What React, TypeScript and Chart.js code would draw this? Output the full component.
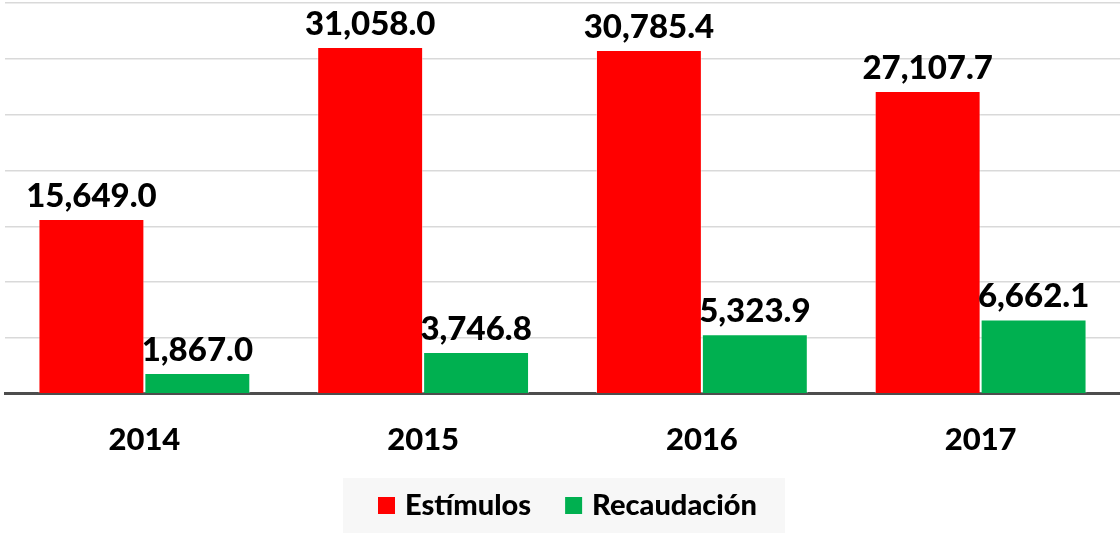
import React, { useEffect, useRef } from "react";
import { Chart, registerables } from "chart.js";

Chart.register(...registerables);

const categories = ["2014", "2015", "2016", "2017"];
const estimulos = [15649.0, 31058.0, 30785.4, 27107.7];
const recaudacion = [1867.0, 3746.8, 5323.9, 6662.1];
const seriesNames = ["Estímulos", "Recaudación"];
const seriesColors = ["#ff0000", "#00b050"];
const FONT = "Lato, 'Open Sans', sans-serif";
const WEIGHT = "900";

const fmt = (v: number) =>
  v.toLocaleString("en-US", { minimumFractionDigits: 1, maximumFractionDigits: 1 });

const dataLabels = {
  id: "dataLabels",
  afterDatasetsDraw(chart: any) {
    const ctx = chart.ctx;
    ctx.save();
    ctx.fillStyle = "#000000";
    ctx.font = `${WEIGHT} 33px ${FONT}`;
    ctx.textAlign = "center";
    ctx.textBaseline = "alphabetic";
    chart.data.datasets.forEach((ds: any, di: number) => {
      const meta = chart.getDatasetMeta(di);
      meta.data.forEach((bar: any, i: number) => {
        ctx.fillText(fmt(ds.data[i]), bar.x, bar.y - 12);
      });
    });
    ctx.restore();
  },
};

const customLegend = {
  id: "customLegend",
  afterDraw(chart: any) {
    const ctx = chart.ctx;
    const w = chart.width;
    const boxW = 442;
    const x0 = w / 2 - boxW / 2 + 4;
    const y0 = 478;
    const h = 55;
    ctx.save();
    ctx.fillStyle = "#f7f7f7";
    ctx.fillRect(x0, y0, boxW, h);
    ctx.font = `${WEIGHT} 29px ${FONT}`;
    ctx.textBaseline = "middle";
    ctx.textAlign = "left";
    const cy = y0 + h / 2;
    let x = x0 + 35;
    seriesNames.forEach((name, i) => {
      ctx.fillStyle = seriesColors[i];
      ctx.fillRect(x, cy - 8.5, 17, 17);
      ctx.fillStyle = "#000000";
      ctx.fillText(name, x + 27, cy);
      x += 27 + ctx.measureText(name).width + 34;
    });
    ctx.restore();
  },
};

export default function App() {
  const ref = useRef<HTMLCanvasElement | null>(null);
  useEffect(() => {
    document.body.style.margin = "0";
    const canvas = ref.current!;
    const chart = new Chart(canvas, {
      type: "bar",
      data: {
        labels: categories,
        datasets: [
          {
            label: seriesNames[0],
            data: estimulos,
            backgroundColor: seriesColors[0],
            borderColor: "rgba(255,255,255,0.45)",
            borderWidth: 1,
          },
          {
            label: seriesNames[1],
            data: recaudacion,
            backgroundColor: seriesColors[1],
            borderColor: "rgba(255,255,255,0.45)",
            borderWidth: 1,
          },
        ],
      },
      options: {
        responsive: false,
        maintainAspectRatio: false,
        animation: false,
        layout: { padding: { left: 5, right: 0, top: 3, bottom: 46 } },
        datasets: { bar: { categoryPercentage: 0.76, barPercentage: 1.0 } },
        plugins: {
          legend: { display: false },
          tooltip: { enabled: false },
        },
        scales: {
          x: {
            grid: { display: false, drawTicks: false },
            border: { display: true, color: "#4d4d4d", width: 3 },
            ticks: {
              color: "#000000",
              font: { family: FONT, size: 31, weight: WEIGHT as any },
              padding: 28,
            },
          },
          y: {
            min: 0,
            max: 35000,
            grid: { color: "#d9d9d9", lineWidth: 1.5, drawTicks: false },
            border: { display: false },
            ticks: { display: false, stepSize: 5000 },
          },
        },
      },
      plugins: [dataLabels, customLegend],
    });
    return () => chart.destroy();
  }, []);
  return <canvas ref={ref} width={1120} height={533} style={{ display: "block" }} />;
}
